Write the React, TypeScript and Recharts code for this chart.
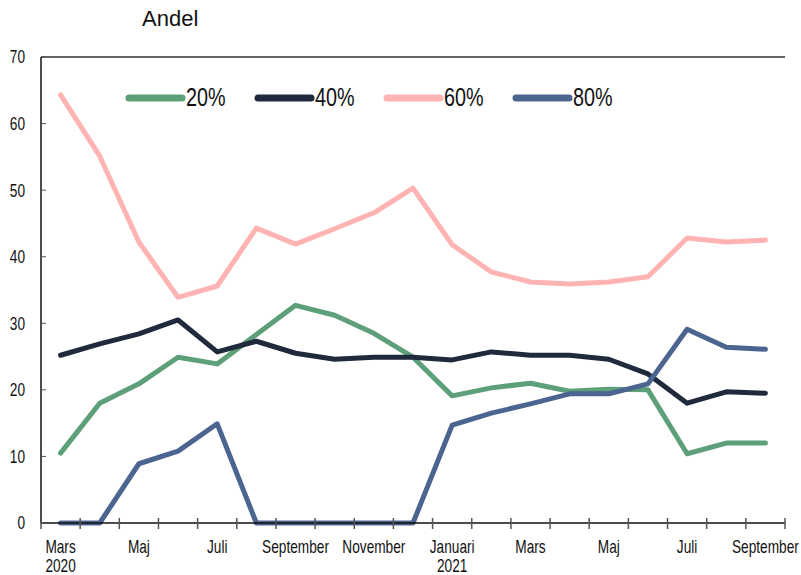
import { Line, LineChart, ReferenceLine, XAxis, YAxis } from 'recharts'

const months = [
  'Mars', 'April', 'Maj', 'Juni', 'Juli', 'Augusti', 'September', 'Oktober', 'November', 'December',
  'Januari', 'Februari', 'Mars', 'April', 'Maj', 'Juni', 'Juli', 'Augusti', 'September',
]
const years: Record<number, string> = { 0: '2020', 10: '2021' }

const p20 = [10.5, 18.0, 20.9, 24.9, 23.9, 28.3, 32.7, 31.2, 28.5, 24.9, 19.1, 20.3, 21.0, 19.8, 20.1, 20.0, 10.4, 12.0, 12.0]
const p40 = [25.2, 26.9, 28.4, 30.5, 25.7, 27.3, 25.5, 24.6, 24.9, 24.9, 24.5, 25.7, 25.2, 25.2, 24.6, 22.4, 18.0, 19.7, 19.5]
const p60 = [64.3, 55.1, 42.2, 33.9, 35.6, 44.3, 41.9, 44.2, 46.6, 50.3, 41.8, 37.7, 36.2, 35.9, 36.2, 37.0, 42.8, 42.2, 42.5]
const p80 = [0, 0, 8.9, 10.8, 14.9, 0, 0, 0, 0, 0, 14.7, 16.5, 17.9, 19.4, 19.4, 20.9, 29.1, 26.4, 26.1]

const series = [
  { key: 'p20', name: '20%', color: '#5c9f79' },
  { key: 'p40', name: '40%', color: '#1f2a3d' },
  { key: 'p60', name: '60%', color: '#ffb3b3' },
  { key: 'p80', name: '80%', color: '#4b6590' },
]

const data = months.map((m, i) => ({ i, month: m, p20: p20[i], p40: p40[i], p60: p60[i], p80: p80[i] }))

// marks at category edges, labels on every second month
const xTicks: number[] = []
for (let k = 0; k <= 38; k++) xTicks.push(k / 2 - 0.5)

const font = '"Liberation Sans", Arial, sans-serif'
const squeeze = 0.76

function MonthTick(props: any) {
  const { x, y, payload } = props
  const v = payload.value as number
  if (Math.abs(v % 1) === 0.5) {
    return <line x1={x} x2={x} y1={y - 5} y2={y + 6} stroke="#555" strokeWidth={1.5} />
  }
  if (v % 2 !== 0) return null
  return (
    <g>
      <text transform={`translate(${x},${y + 30}) scale(${squeeze},1)`} textAnchor="middle" fontSize={18} fill="#111" fontFamily={font}>
        {months[v]}
      </text>
      {years[v] && (
        <text transform={`translate(${x},${y + 49}) scale(${squeeze},1)`} textAnchor="middle" fontSize={18} fill="#111" fontFamily={font}>
          {years[v]}
        </text>
      )}
    </g>
  )
}

function ValueTick(props: any) {
  const { x, y, payload } = props
  return (
    <text transform={`translate(${x},${y}) scale(${squeeze},1)`} dy="0.36em" textAnchor="end" fontSize={18} fill="#111" fontFamily={font}>
      {payload.value}
    </text>
  )
}

function LegendBox() {
  return (
    <div style={{ position: 'absolute', left: 124, top: 82, display: 'flex', gap: 27, fontFamily: font, fontSize: 26, color: '#111' }}>
      {series.map((s) => (
        <div key={s.key} style={{ display: 'flex', alignItems: 'center', gap: 0 }}>
          <svg width={62} height={10}>
            <line x1={5} x2={58} y1={5} y2={5} stroke={s.color} strokeWidth={7} strokeLinecap="round" />
          </svg>
          <span style={{ display: 'inline-block', width: 40, transform: `scaleX(${squeeze})`, transformOrigin: 'left center' }}>{s.name}</span>
        </div>
      ))}
    </div>
  )
}

export default function App() {
  return (
    <div style={{ position: 'absolute', left: 0, top: 0, width: 801, height: 575, background: '#fff' }}>
      <div style={{ position: 'absolute', left: 142, top: 6, fontFamily: font, fontSize: 22, color: '#111' }}>
        Andel
      </div>
      <LineChart width={801} height={575} data={data} margin={{ top: 57, right: 16, left: 0, bottom: 0 }}>
        <XAxis
          dataKey="i"
          type="number"
          domain={[-0.5, 18.5]}
          ticks={xTicks}
          interval={0}
          tick={<MonthTick />}
          tickLine={false}
          tickSize={0}
          tickMargin={0}
          height={52}
          axisLine={{ stroke: '#111', strokeWidth: 1.5 }}
        />
        <YAxis
          domain={[0, 70]}
          ticks={[0, 10, 20, 30, 40, 50, 60, 70]}
          width={41}
          tickSize={-5}
          tickMargin={21}
          axisLine={{ stroke: '#111', strokeWidth: 1.5 }}
          tickLine={{ stroke: '#555' }}
          tick={<ValueTick />}
        />
        <YAxis yAxisId="r" orientation="right" width={0} tick={false} tickLine={false} axisLine={{ stroke: '#666', strokeWidth: 2 }} />
        <ReferenceLine y={70} stroke="#666" strokeWidth={2} />
        {series.map((s) => (
          <Line
            key={s.key}
            dataKey={s.key}
            name={s.name}
            stroke={s.color}
            strokeWidth={5}
            dot={false}
            activeDot={false}
            strokeLinejoin="round"
            strokeLinecap="round"
            isAnimationActive={false}
          />
        ))}
      </LineChart>
      <LegendBox />
    </div>
  )
}
